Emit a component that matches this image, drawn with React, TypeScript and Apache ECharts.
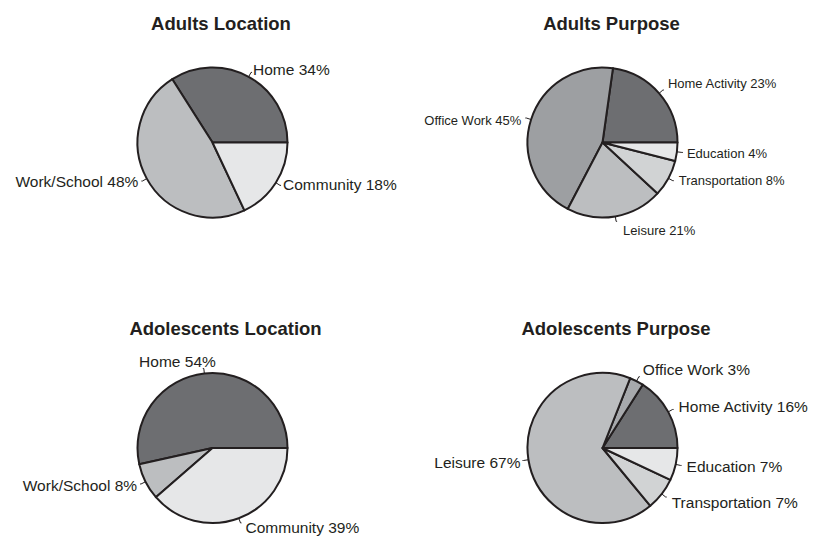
import React, { useEffect, useRef } from "react";
import * as echarts from "echarts";

const DARK = "#6d6e71";
const MID = "#9d9fa2";
const MID2 = "#a7a9ac";
const LIGHT = "#bcbec0";
const LIGHTER = "#d1d3d4";
const LIGHTEST = "#e6e7e8";
const INK = "#231f20";
const FONT = "'Liberation Sans', Arial, Helvetica, sans-serif";

const titles = ["Adults Location", "Adults Purpose", "Adolescents Location", "Adolescents Purpose"];

const adultsLocationCats = ["Home", "Work/School", "Community"];
const adultsLocationVals = [34, 48, 18];
const adultsLocationColors = [DARK, LIGHT, LIGHTEST];

const adultsPurposeCats = ["Home Activity", "Office Work", "Leisure", "Transportation", "Education"];
const adultsPurposeVals = [23, 45, 21, 8, 4];
const adultsPurposeColors = [DARK, MID, LIGHT, LIGHTER, LIGHTEST];

const adolLocationCats = ["Home", "Work/School", "Community"];
const adolLocationVals = [54, 8, 39];
const adolLocationColors = [DARK, LIGHT, LIGHTEST];

const adolPurposeCats = ["Home Activity", "Office Work", "Leisure", "Transportation", "Education"];
const adolPurposeVals = [16, 3, 67, 7, 7];
const adolPurposeColors = [DARK, MID2, LIGHT, LIGHTER, LIGHTEST];

// label nudges (style only): [dx, dy] per slice label
const adultsLocationNudge = [[-1, -3], [-1, 0], [0, -1]];
const adultsPurposeNudge = [[2, -7], [-2, 2], [4, 9], [3, 0], [2, 1]];
const adolLocationNudge = [[15, -7], [-1, 2], [2, 5]];
const adolPurposeNudge = [[3, -3], [1, -7], [0, 2], [3, 5], [3, 1]];

function makeData(cats: string[], vals: number[], colors: string[]) {
  return cats.map((name, i) => ({ name, value: vals[i], itemStyle: { color: colors[i] } }));
}

function pieSeries(center: [number, number], data: any[], fontSize: number, nudge: number[][]) {
  return {
    type: "pie",
    center,
    radius: 75,
    startAngle: 0,
    clockwise: false,
    avoidLabelOverlap: false,
    silent: true,
    itemStyle: { borderColor: INK, borderWidth: 2 },
    label: {
      show: true,
      position: "outside",
      formatter: "{b} {c}%",
      color: INK,
      fontSize,
      fontFamily: FONT,
      distanceToLabelLine: 2,
    },
    labelLine: {
      show: true,
      length: 5,
      length2: 1,
      smooth: false,
      lineStyle: { color: INK, width: 1 },
    },
    labelLayout: (p: any) => {
      const n = nudge[p.dataIndex] || [0, 0];
      return { dx: n[0], dy: n[1] };
    },
    data,
  };
}

export default function App() {
  const ref = useRef<HTMLDivElement>(null);
  useEffect(() => {
    document.body.style.margin = "0";
    if (!ref.current) return;
    const chart = echarts.init(ref.current, null, { renderer: "svg" });
    const titlePos: [number, number][] = [
      [221, 23],
      [611.5, 23],
      [225.5, 328],
      [616, 328],
    ];
    chart.setOption({
      animation: false,
      backgroundColor: "#ffffff",
      graphic: titles.map((t, i) => ({
        type: "text",
        x: titlePos[i][0],
        y: titlePos[i][1],
        style: {
          text: t,
          fill: INK,
          font: `bold 18.5px ${FONT}`,
          textAlign: "center",
          textVerticalAlign: "middle",
        },
      })),
      series: [
        pieSeries([212.5, 142.5], makeData(adultsLocationCats, adultsLocationVals, adultsLocationColors), 15.5, adultsLocationNudge),
        pieSeries([602.5, 142.5], makeData(adultsPurposeCats, adultsPurposeVals, adultsPurposeColors), 13, adultsPurposeNudge),
        pieSeries([212.5, 448], makeData(adolLocationCats, adolLocationVals, adolLocationColors), 15.5, adolLocationNudge),
        pieSeries([602.5, 448], makeData(adolPurposeCats, adolPurposeVals, adolPurposeColors), 15.5, adolPurposeNudge),
      ],
    });
    return () => chart.dispose();
  }, []);
  return <div ref={ref} style={{ width: 813, height: 537 }} />;
}
